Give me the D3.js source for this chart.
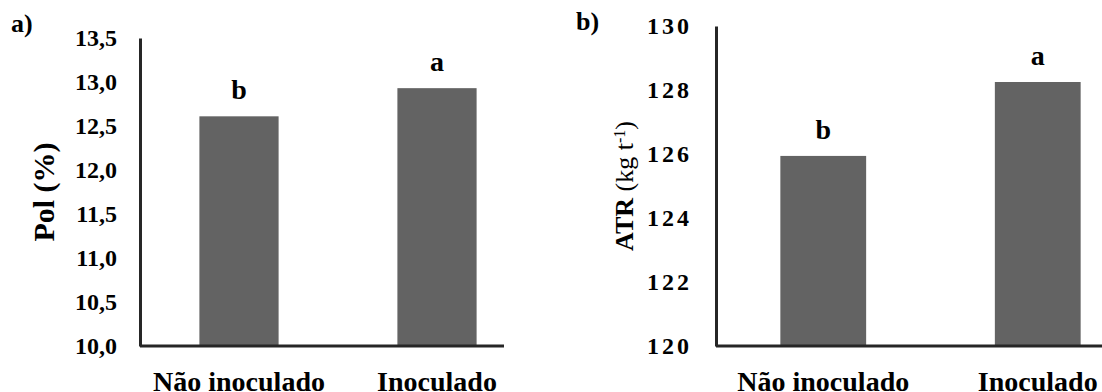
<!DOCTYPE html>
<html>
<head>
<meta charset="utf-8">
<script src="https://cdn.jsdelivr.net/npm/d3@7"></script>
<style>
  html, body { margin: 0; padding: 0; background: #fff; }
  svg { display: block; }
  svg text { font-family: "Liberation Serif", "Times New Roman", serif !important; fill: #000; }
</style>
</head>
<body>
<svg id="chart" width="1102" height="392"></svg>
<script>
// ---- data ----
const categories = ["Não inoculado", "Inoculado"];
const polValues = [12.61, 12.93];
const polLetters = ["b", "a"];
const polTicks = [10.0, 10.5, 11.0, 11.5, 12.0, 12.5, 13.0, 13.5];
const atrValues = [125.94, 128.25];
const atrLetters = ["b", "a"];
const atrTicks = [120, 122, 124, 126, 128, 130];

const svg = d3.select("#chart");
const barColor = "#636363";
const axisColor = "#262626";
const serif = '"Liberation Serif", "Times New Roman", serif';

function panel(opts) {
  const g = svg.append("g").attr("font-family", serif);
  const x = d3.scaleBand().domain(categories).range(opts.xRange)
    .paddingInner(0.6).paddingOuter(0.3);
  const y = d3.scaleLinear().domain(opts.yDomain).range(opts.yRange);

  // bars
  g.selectAll("rect.bar").data(opts.values).join("rect")
    .attr("class", "bar")
    .attr("x", (d, i) => x(categories[i]))
    .attr("width", x.bandwidth())
    .attr("y", d => y(d))
    .attr("height", d => y(opts.yDomain[0]) - y(d))
    .attr("fill", barColor);

  // letters
  g.selectAll("text.letter").data(opts.values).join("text")
    .attr("class", "letter")
    .attr("x", (d, i) => x(categories[i]) + x.bandwidth() / 2)
    .attr("y", d => y(d) - 17)
    .attr("text-anchor", "middle")
    .style("font-weight", "bold")
    .style("font-size", "28px")
    .text((d, i) => opts.letters[i]);

  // y axis
  const ya = g.append("g")
    .attr("transform", `translate(${opts.xRange[0]},0)`)
    .call(d3.axisLeft(y).tickValues(opts.ticks).tickSize(0).tickPadding(opts.tickPad)
      .tickFormat(opts.fmt));
  ya.attr("font-family", serif);
  ya.select(".domain").attr("stroke", axisColor).attr("stroke-width", 3);
  ya.selectAll(".tick text")
    .style("font-family", serif)
    .style("font-weight", "bold")
    .style("font-size", "24px")
    .style("letter-spacing", opts.ls + "px")
    .attr("fill", "#000");

  // x axis line
  g.append("line")
    .attr("x1", opts.xRange[0]).attr("x2", opts.xAxisEnd)
    .attr("y1", y(opts.yDomain[0])).attr("y2", y(opts.yDomain[0]))
    .attr("stroke", axisColor).attr("stroke-width", 3);

  // x labels
  const xa = g.append("g")
    .attr("transform", `translate(0,${y(opts.yDomain[0])})`)
    .call(d3.axisBottom(x).tickSize(0).tickPadding(0));
  xa.attr("font-family", serif);
  xa.select(".domain").remove();
  xa.selectAll(".tick text")
    .style("font-family", serif)
    .style("font-weight", "bold")
    .style("font-size", "28px")
    .attr("fill", "#000")
    .attr("y", 45).attr("dy", 0);

  // panel label
  g.append("text")
    .attr("x", opts.label.x).attr("y", opts.label.y)
    .style("font-weight", "bold").style("font-size", "26px")
    .text(opts.label.t);

  return g;
}

panel({
  xRange: [140, 536], xAxisEnd: 504,
  yDomain: [10, 13.5], yRange: [346, 38],
  values: polValues, letters: polLetters, ticks: polTicks,
  tickPad: 23, ls: 0,
  fmt: d => d.toFixed(1).replace(".", ","),
  label: { x: 11, y: 32, t: "a)" }
});

panel({
  xRange: [716, 1145], xAxisEnd: 1102,
  yDomain: [120, 130], yRange: [346, 26],
  values: atrValues, letters: atrLetters, ticks: atrTicks,
  tickPad: 24, ls: 3,
  fmt: d => String(d),
  label: { x: 576, y: 30, t: "b)" }
});

// y titles
svg.append("text")
  .attr("transform", "translate(44,192) rotate(-90)")
  .attr("text-anchor", "middle").attr("dy", "0.33em")
  .style("font-weight", "bold").style("font-size", "30px")
  .text("Pol (%)");

const t2 = svg.append("text")
  .attr("transform", "translate(624,186) rotate(-90)")
  .attr("text-anchor", "middle").attr("dy", "0.33em")
  .style("font-size", "26px");
t2.append("tspan").style("font-weight", "bold").text("ATR ");
t2.append("tspan").text("(kg t");
t2.append("tspan").attr("baseline-shift", "super").style("font-size", "16px").text("-1");
t2.append("tspan").text(")");
</script>
</body>
</html>
